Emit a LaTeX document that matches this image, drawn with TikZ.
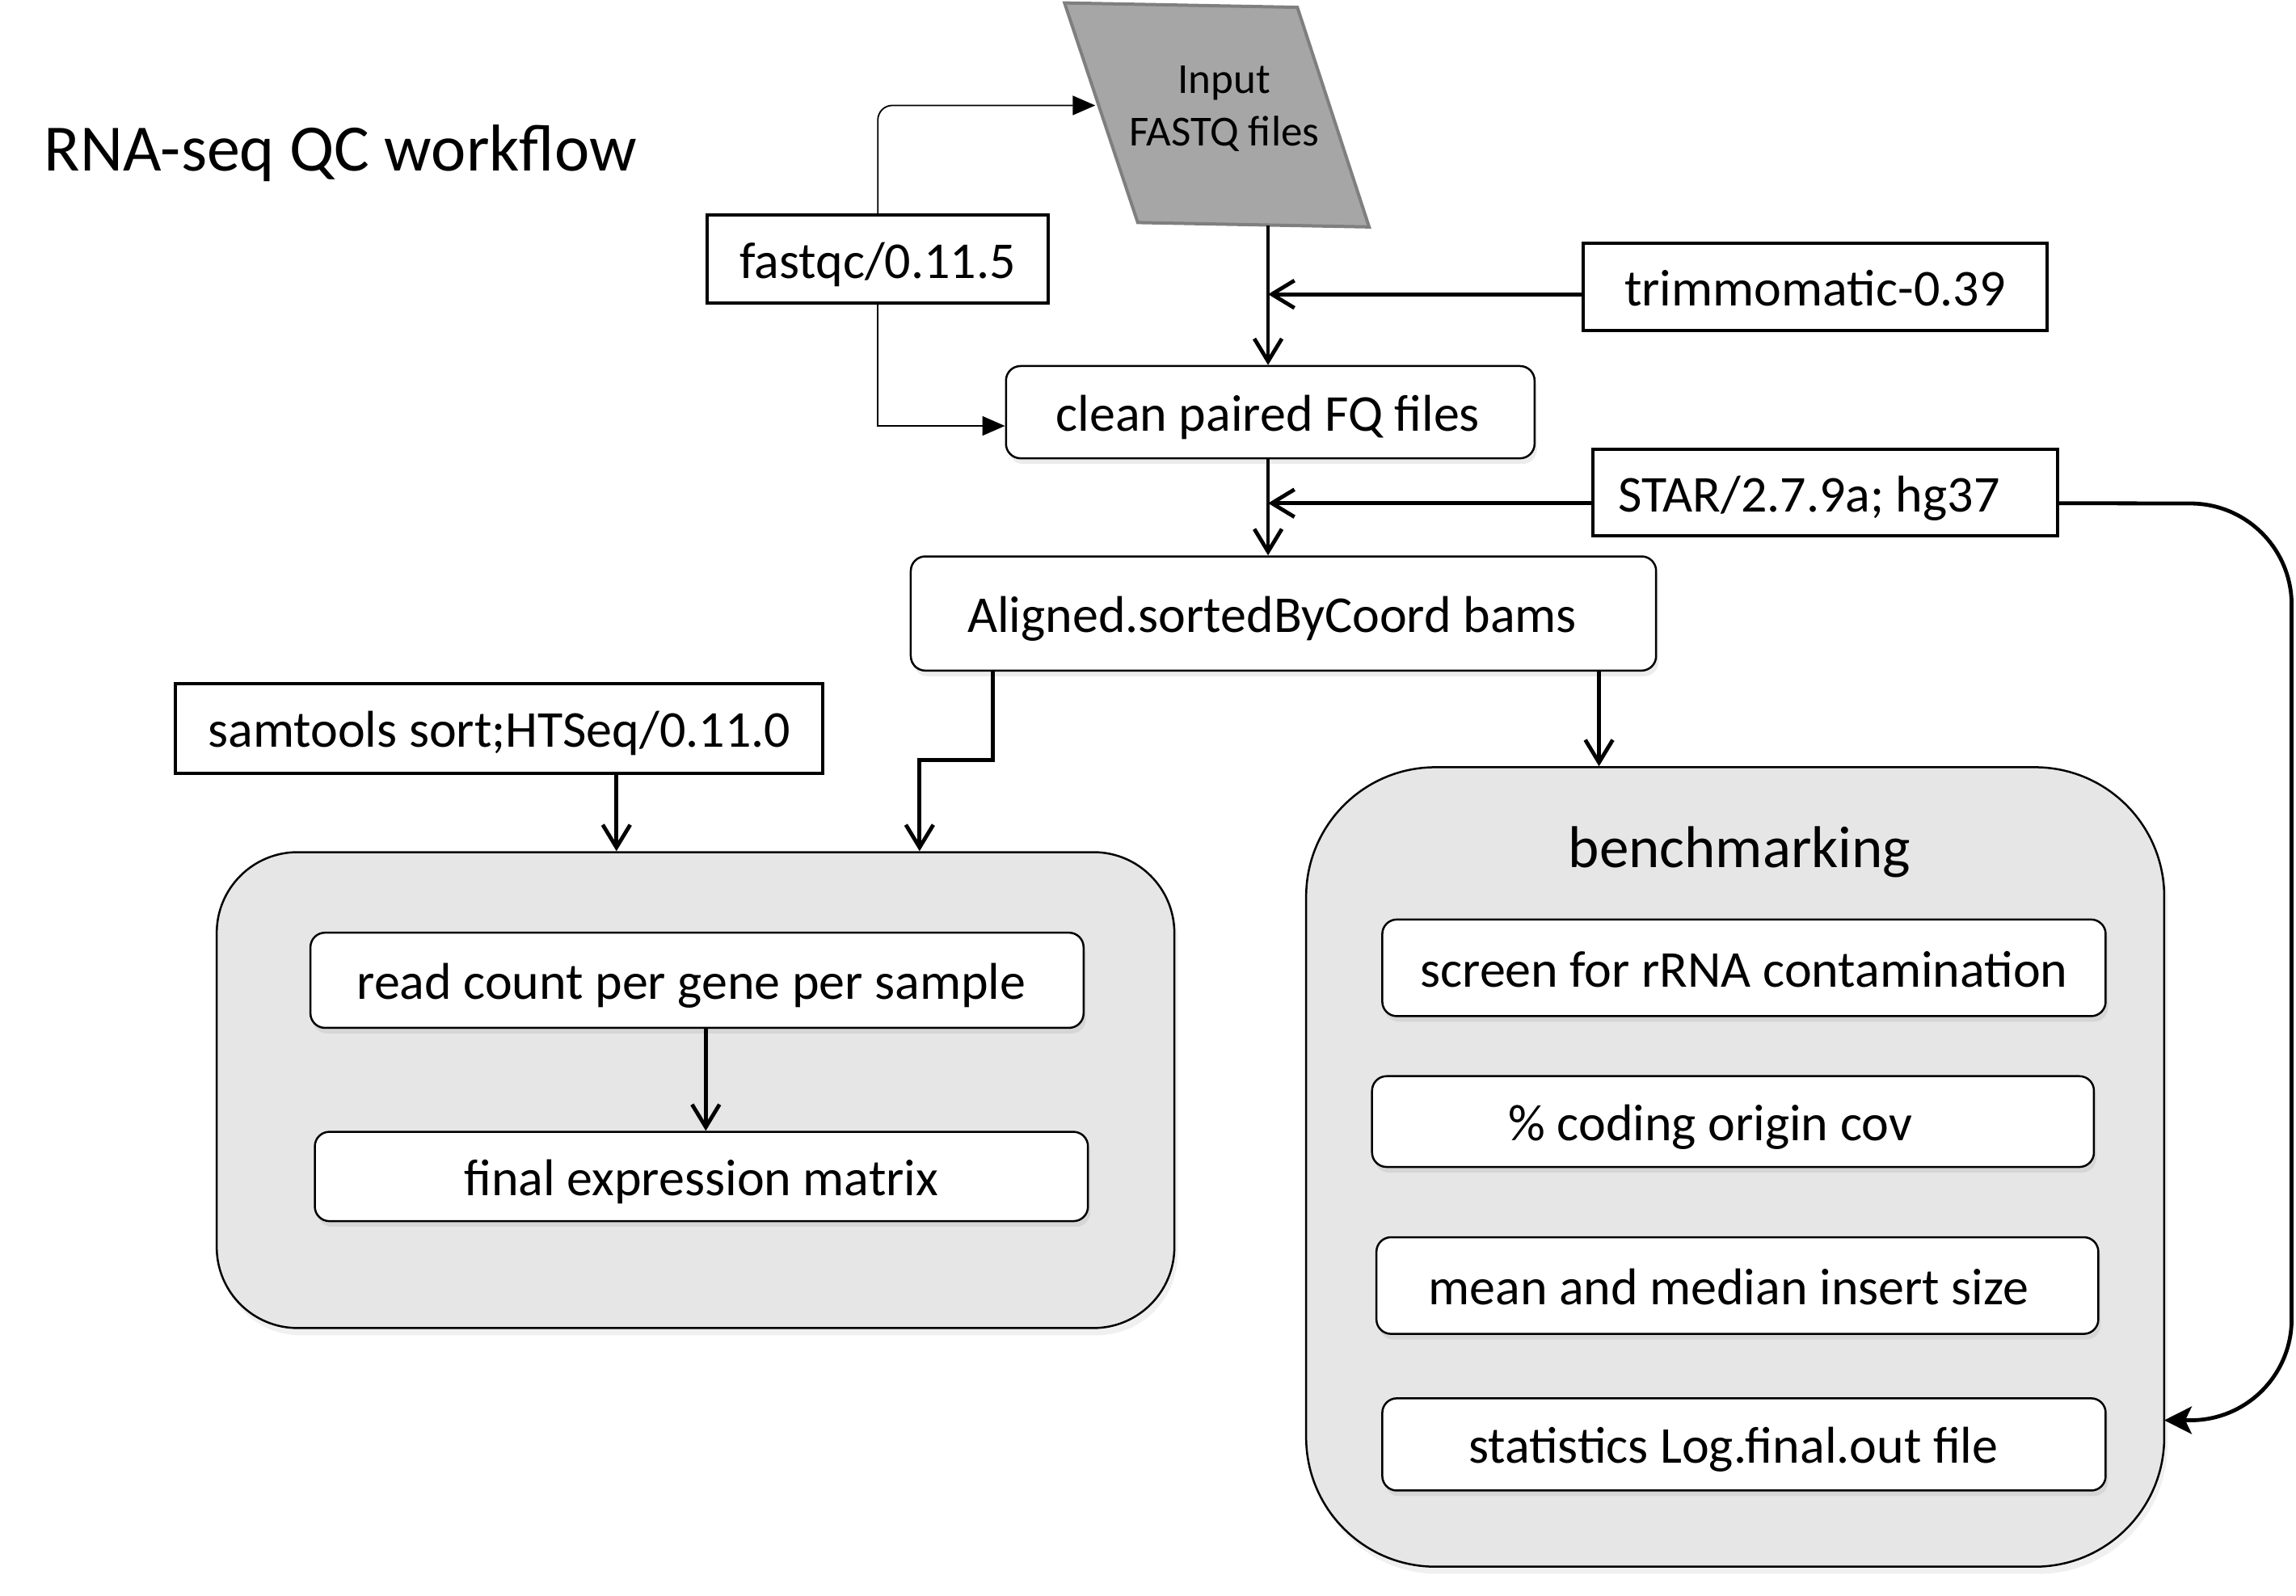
\documentclass[tikz,border=0pt]{standalone}
\usepackage{fontspec}
\setmainfont{Carlito}
\usetikzlibrary{arrows.meta,shadows,calc}
\definecolor{boxgray}{RGB}{230,230,230}
\definecolor{parafill}{RGB}{166,166,166}
\definecolor{paraline}{RGB}{127,127,127}
\tikzset{
  bodyfont/.style={font=\fontsize{64}{77}\selectfont},
  boxat/.style n args={4}{at={({(#1+#3)/2},{(#2+#4)/2})},
    minimum width={(#3-#1)*1.812pt}, minimum height={(#4-#2)*1.812pt}},
  txt/.style={inner sep=0pt, text height=47pt, text depth=0pt},
  toolbox/.style={draw, line width=4pt, fill=white, txt, bodyfont},
  rbox/.style={draw, line width=2.5pt, fill=white, rounded corners=18pt, txt, bodyfont,
    drop shadow={shadow xshift=3pt, shadow yshift=-7pt, opacity=0.15}},
  bigbox/.style={draw, line width=2.5pt, fill=boxgray, inner sep=0pt,
    drop shadow={shadow xshift=4pt, shadow yshift=-9pt, opacity=0.12}},
  conn/.style={line width=4.8pt, -{Straight Barb[length=28pt,width=34pt]}},
  thinconn/.style={line width=1.8pt, -{Triangle[length=28pt,width=24pt]}},
  curveconn/.style={line width=4.8pt, -{Stealth[length=34pt,width=34pt,inset=8pt]}}
}
\begin{document}
\begin{tikzpicture}[x=1.812pt,y=-1.812pt]
\useasboundingbox (0,0) rectangle (1568,1090);

% title
\node[anchor=base west, inner sep=0pt, font=\fontsize{82}{98}\selectfont] (title) at (30,117) {RNA-seq QC workflow};

% input parallelogram
\draw[line width=4pt, draw=paraline, fill=parafill] (727,2) -- (886,5) -- (935,155) -- (777,152) -- cycle;
\node[align=center, inner sep=0pt, font=\fontsize{53}{65}\selectfont] (input) at (836,74) {Input\\FASTQ files};
\coordinate (inL) at (748,72);
\coordinate (inB) at (866,154);

% tool boxes
\node[toolbox, boxat={483}{147}{716}{207}] (fastqc) {fastqc/0.11.5};
\node[toolbox, boxat={1081}{166}{1398}{226}] (trim) {trimmomatic-0.39};
\node[toolbox, boxat={1088}{307}{1405}{366}] (star) {STAR/2.7.9a; hg37\hspace*{40pt}};
\node[toolbox, boxat={120}{467}{562}{528}] (sam) {samtools sort;HTSeq/0.11.0};

% main flow boxes
\node[rbox, boxat={687}{250}{1048}{313}] (clean) {clean paired FQ files\hspace*{6pt}};
\node[rbox, boxat={622}{380}{1131}{458}] (aligned) {Aligned.sortedByCoord bams\hspace*{28pt}};

% left group
\node[bigbox, rounded corners=100pt, boxat={148}{582}{802}{907}] (left) {};
\node[rbox, boxat={212}{637}{740}{702}] (rc) {read count per gene per sample\hspace*{14pt}};
\node[rbox, boxat={215}{773}{743}{834}] (fem) {final expression matrix};

% benchmarking group
\node[bigbox, rounded corners=160pt, boxat={892}{524}{1478}{1070}] (bench) {};
\node[inner sep=0pt, font=\fontsize{73}{88}\selectfont] (benchlbl) at (1188,582) {benchmarking};
\node[rbox, boxat={944}{628}{1438}{694}] (screen) {screen for rRNA contamination};
\node[rbox, boxat={937}{735}{1430}{797}] (cov) {\% coding origin cov\hspace*{56pt}};
\node[rbox, boxat={940}{845}{1433}{911}] (ins) {mean and median insert size\hspace*{22pt}};
\node[rbox, boxat={944}{955}{1438}{1018}] (stat) {statistics Log.final.out file\hspace*{26pt}};

% helper coordinates
\coordinate (x482) at (482,0);
\coordinate (x421) at (421,0);
\coordinate (x678) at (678,0);
\coordinate (x628) at (628,0);
\coordinate (x1092) at (1092,0);
\coordinate (y519) at (0,519);
\coordinate (c1) at (1565,344);
\coordinate (c2) at (1565,970);
\coordinate (benchin) at (1478,970);

% connectors
\draw[thinconn, rounded corners=18pt] (fastqc.north) |- (inL);
\draw[thinconn] (fastqc.south) |- ([yshift=-17pt]clean.west);
\draw[conn] (inB) -- (inB |- clean.north);
\draw[conn] ([yshift=-9pt]trim.west) -- ([yshift=-9pt]trim.west -| inB);
\draw[conn] (clean.south -| inB) -- (inB |- aligned.north);
\draw[conn] ([yshift=-13pt]star.west) -- ([yshift=-13pt]star.west -| inB);
\draw[curveconn, rounded corners=125pt] ([yshift=-13pt]star.east) -- (c1) -- (c2) -- (benchin);
\draw[conn] (aligned.south -| x678) -- (x678 |- y519) -- (x628 |- y519) -- (x628 |- left.north);
\draw[conn] (aligned.south -| x1092) -- (x1092 |- bench.north);
\draw[conn] (sam.south -| x421) -- (x421 |- left.north);
\draw[conn] (rc.south -| x482) -- (x482 |- fem.north);
\end{tikzpicture}
\end{document}
